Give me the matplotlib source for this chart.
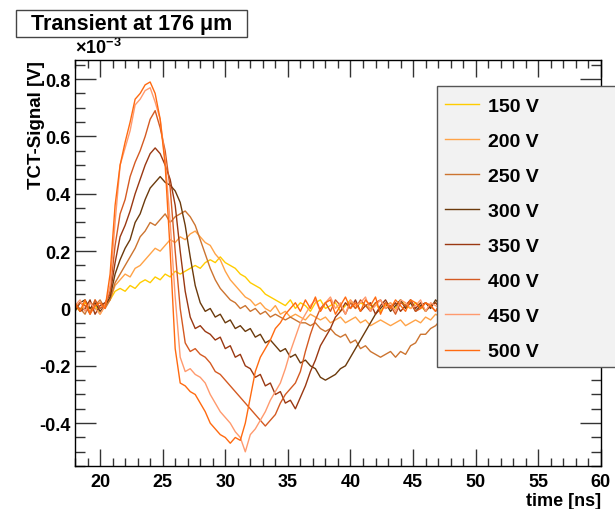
"""Transient TCT signals at 176 um for several bias voltages."""

import matplotlib

matplotlib.use("Agg")
import matplotlib.pyplot as plt
from matplotlib.patches import Rectangle
from matplotlib.ticker import FuncFormatter, MultipleLocator

# sampling times [ns]
TIME_NS = [
    18.0, 18.4, 18.8, 19.2, 19.6, 20.0, 20.4, 20.8, 21.2, 21.6,
    22.0, 22.4, 22.8, 23.2, 23.6, 24.0, 24.4, 24.8, 25.2, 25.6,
    26.0, 26.4, 26.8, 27.2, 27.6, 28.0, 28.4, 28.8, 29.2, 29.6,
    30.0, 30.4, 30.8, 31.2, 31.6, 32.0, 32.4, 32.8, 33.2, 33.6,
    34.0, 34.4, 34.8, 35.2, 35.6, 36.0, 36.4, 36.8, 37.2, 37.6,
    38.0, 38.4, 38.8, 39.2, 39.6, 40.0, 40.4, 40.8, 41.2, 41.6,
    42.0, 42.4, 42.8, 43.2, 43.6, 44.0, 44.4, 44.8, 45.2, 45.6,
    46.0, 46.4, 46.8, 47.2, 47.6, 48.0,
]

# signal values in units of 1e-3 V
V150 = [
    0.01, -0.01, 0.02, 0.00, 0.01, -0.02, 0.01,
    0.03, 0.06, 0.07, 0.06, 0.08, 0.07, 0.09, 0.10, 0.09, 0.11,
    0.10, 0.12, 0.11, 0.13, 0.12, 0.13, 0.14, 0.15, 0.14, 0.16,
    0.17, 0.16, 0.18, 0.16, 0.15, 0.14, 0.12, 0.11, 0.09, 0.08,
    0.07, 0.05, 0.04, 0.03, 0.02,
    0.01, 0.03, 0.00, 0.02, 0.01, -0.01, 0.02, 0.03, 0.00, 0.01,
    0.02, -0.01, 0.01, 0.03, 0.00, 0.02, 0.01, 0.00, 0.02, -0.01,
    0.01, 0.02, 0.00, 0.03, 0.01, 0.00, 0.02, 0.01, -0.01, 0.01,
    0.02, 0.00, 0.01, 0.02,
]
V200 = [
    0.00, 0.02, 0.01, -0.01, 0.03, 0.00, 0.02,
    0.03, 0.08, 0.10, 0.12, 0.11, 0.14, 0.15, 0.17, 0.19, 0.21,
    0.20, 0.22, 0.24, 0.23, 0.25, 0.24, 0.26, 0.27, 0.25, 0.23,
    0.22, 0.19, 0.17, 0.13, 0.10, 0.08, 0.06, 0.04, 0.03, 0.01,
    0.02, 0.00, -0.01, 0.01, -0.02, -0.01, -0.03, -0.02, -0.03, -0.04,
    -0.02, -0.03, -0.04, -0.03, -0.05, -0.04, -0.03, -0.05, -0.04, -0.03,
    -0.05, -0.04, -0.06, -0.05, -0.04, -0.05, -0.06, -0.05, -0.04, -0.06,
    -0.05, -0.04, -0.05, -0.03, -0.04, -0.02, -0.03, -0.01, -0.02,
]
V250 = [
    0.01, 0.00, -0.02, 0.02, 0.01, 0.03, 0.00,
    0.03, 0.09, 0.12, 0.15, 0.18, 0.21, 0.25, 0.27, 0.30, 0.29,
    0.31, 0.33, 0.30, 0.32, 0.33, 0.34, 0.32, 0.29, 0.24, 0.19,
    0.14, 0.10, 0.07, 0.05, 0.03, 0.02, 0.00, 0.01, -0.01, 0.00,
    -0.02, -0.01, -0.03, -0.02, -0.03, -0.04, -0.03, -0.04, -0.05, -0.05,
    -0.06, -0.05, -0.07, -0.08, -0.07, -0.09, -0.10, -0.09, -0.12, -0.11,
    -0.14, -0.13, -0.15, -0.16, -0.17, -0.16, -0.15, -0.17, -0.15, -0.16,
    -0.13, -0.12, -0.09, -0.09, -0.07, -0.06, -0.04, -0.03, -0.01,
]
V300 = [
    -0.01, 0.02, 0.03, 0.00, 0.02, -0.01, 0.01,
    0.04, 0.12, 0.17, 0.21, 0.24, 0.30, 0.33, 0.38, 0.42, 0.44,
    0.46, 0.44, 0.43, 0.41, 0.37, 0.29, 0.18, 0.08, 0.02, -0.01,
    0.00, -0.03, -0.02, -0.05, -0.04, -0.07, -0.06, -0.08, -0.07, -0.10,
    -0.09, -0.12, -0.11, -0.13, -0.15, -0.14, -0.17, -0.16, -0.19, -0.18,
    -0.20, -0.21, -0.24, -0.25, -0.24, -0.23, -0.21, -0.20, -0.17, -0.14,
    -0.11, -0.08, -0.05, -0.02, 0.00,
    0.02, -0.01, 0.01, 0.03, 0.00, 0.02, -0.01, 0.01, 0.02, 0.00,
    0.03, 0.01, -0.01, 0.02,
]
V350 = [
    0.02, -0.01, 0.00, 0.03, -0.02, 0.01, 0.02,
    0.05, 0.16, 0.25, 0.29, 0.34, 0.40, 0.45, 0.50, 0.54, 0.56,
    0.54, 0.50, 0.45, 0.36, 0.20, 0.06, -0.03, -0.07, -0.06, -0.08,
    -0.09, -0.11, -0.10, -0.14, -0.13, -0.17, -0.16, -0.20, -0.21, -0.24,
    -0.23, -0.27, -0.26, -0.30, -0.29, -0.33, -0.32, -0.35, -0.31, -0.27,
    -0.22, -0.18, -0.13, -0.10, -0.07, -0.03, -0.01,
    0.02, 0.00, 0.03, -0.01, 0.01, 0.02, -0.02, 0.01, 0.03, 0.00,
    0.02, -0.01, 0.01, 0.03, 0.00, 0.02, -0.01, 0.01, 0.02, 0.00,
    0.01, -0.01,
]
V400 = [
    0.00, 0.02, 0.01, -0.02, 0.03, 0.00, 0.01,
    0.06, 0.22, 0.33, 0.38, 0.46, 0.51, 0.55, 0.60, 0.66, 0.69,
    0.63, 0.55, 0.42, 0.20, 0.00, -0.12, -0.15, -0.14, -0.16, -0.17,
    -0.19, -0.22, -0.23, -0.25, -0.27, -0.29, -0.31, -0.33, -0.35, -0.37,
    -0.39, -0.41, -0.39, -0.37, -0.33, -0.30, -0.28, -0.26, -0.22, -0.15,
    -0.09, -0.04, 0.00,
    0.02, -0.01, 0.03, 0.01, -0.02, 0.02, 0.00, 0.03, 0.01, -0.01,
    0.02, 0.03, 0.00, 0.01, -0.02, 0.02, 0.01, 0.03, -0.01, 0.00,
    0.02, 0.01, -0.01, 0.02, 0.00, 0.01,
]
V450 = [
    0.01, 0.03, -0.01, 0.02, 0.00, -0.02, 0.01,
    0.08, 0.30, 0.50, 0.56, 0.62, 0.71, 0.73, 0.76, 0.77, 0.72,
    0.66, 0.52, 0.30, 0.04, -0.17, -0.22, -0.21, -0.23, -0.24, -0.26,
    -0.30, -0.33, -0.36, -0.38, -0.40, -0.43, -0.45, -0.50, -0.44, -0.42,
    -0.39, -0.36, -0.32, -0.29, -0.26, -0.21, -0.15, -0.10, -0.05, -0.02,
    0.01, 0.03, -0.01, 0.02, 0.04, 0.00, 0.02, -0.02, 0.03, 0.01,
    0.02, 0.04, -0.01, 0.01, 0.03, 0.00, 0.02, -0.01, 0.03, 0.02,
    0.00, 0.01, 0.03, -0.01, 0.02, 0.01, 0.00, 0.02, 0.01,
]
V500 = [
    0.02, -0.01, 0.03, -0.02, 0.01, 0.02, 0.00,
    0.12, 0.36, 0.50, 0.58, 0.65, 0.73, 0.75, 0.78, 0.79, 0.75,
    0.66, 0.50, 0.20, -0.14, -0.26, -0.27, -0.29, -0.30, -0.33, -0.36,
    -0.40, -0.42, -0.44, -0.45, -0.47, -0.45, -0.46, -0.40, -0.31, -0.22,
    -0.17, -0.14, -0.11, -0.07, -0.05, -0.02, 0.00,
    0.02, -0.01, 0.03, 0.00, 0.04, -0.01, 0.02, 0.03, -0.02, 0.01,
    0.04, 0.00, 0.02, -0.01, 0.03, 0.01, 0.04, -0.02, 0.02, 0.00,
    0.03, 0.01, -0.01, 0.03, 0.02, 0.00, 0.02, 0.01, -0.01, 0.02,
    0.01, 0.03,
]

LABELS = ["150 V", "200 V", "250 V", "300 V", "350 V", "400 V", "450 V", "500 V"]
SERIES = [V150, V200, V250, V300, V350, V400, V450, V500]
COLORS = ["#FFCC00", "#FFA347", "#CC7430", "#6B3A0C", "#9A3812",
          "#D45A22", "#FF9A6E", "#FF6A10"]


def main() -> None:
    plt.rcParams["font.family"] = ["Liberation Sans", "DejaVu Sans"]
    plt.rcParams["font.weight"] = "bold"
    plt.rcParams["axes.labelweight"] = "bold"
    plt.rcParams["axes.unicode_minus"] = False

    fig = plt.figure(figsize=(6.15, 5.10), dpi=100)
    ax = fig.add_axes([0.122, 0.084, 0.855, 0.796])

    for label, color, values in zip(LABELS, COLORS, SERIES):
        assert len(values) == len(TIME_NS), label
        ax.plot(TIME_NS, values, color=color, lw=1.0, label=label)

    ax.set_xlim(18, 60)
    ax.set_ylim(-0.55, 0.866)
    ax.xaxis.set_major_locator(MultipleLocator(5))
    ax.xaxis.set_minor_locator(MultipleLocator(1))
    ax.yaxis.set_major_locator(MultipleLocator(0.2))
    ax.yaxis.set_minor_locator(MultipleLocator(0.05))
    ax.yaxis.set_major_formatter(
        FuncFormatter(lambda v, _: "0" if abs(v) < 1e-9 else f"{round(v, 2):g}"))

    ax.tick_params(which="both", direction="in", top=True, right=True,
                   labelsize=13, width=1, color="#333333")
    ax.tick_params(axis="x", which="major", length=12, pad=5)
    ax.tick_params(axis="x", which="minor", length=6)
    ax.tick_params(axis="y", which="major", length=15, pad=3)
    ax.tick_params(axis="y", which="minor", length=7)
    for spine in ax.spines.values():
        spine.set_linewidth(1)

    ax.set_xlabel("time [ns]", fontsize=13, fontweight="bold", loc="right")
    ax.xaxis.set_label_coords(1.0, -0.063)
    ax.set_ylabel("TCT-Signal [V]", fontsize=13.5, fontweight="bold", loc="top")
    ax.yaxis.set_label_coords(-0.058, 1.0)
    ax.text(0.0, 1.008, r"$\mathregular{\times10^{-3}}$", transform=ax.transAxes,
            fontsize=13, fontweight="bold", ha="left", va="bottom")

    # title box
    fig.add_artist(Rectangle((0.026, 0.9255), 0.3756, 0.0529, transform=fig.transFigure,
                             facecolor="white", edgecolor="#444444", lw=1, zorder=3))
    fig.text(0.214, 0.952, "Transient at 176 \u03bcm", fontsize=15.5, fontweight="bold",
             ha="center", va="center", zorder=4)

    # legend box
    fig.add_artist(Rectangle((0.7106, 0.2784), 0.35, 0.551, transform=fig.transFigure,
                             facecolor="#F2F2F2", edgecolor="#555555", lw=1, zorder=3))
    fig.legend(loc="upper left", bbox_to_anchor=(445 / 615, 1 - 98 / 510), frameon=False,
               fontsize=14, handlelength=1.75, handletextpad=0.45, labelspacing=0.9,
               borderpad=0, borderaxespad=0)

    fig.savefig("out.png", dpi=100)
    plt.close(fig)


if __name__ == "__main__":
    main()
